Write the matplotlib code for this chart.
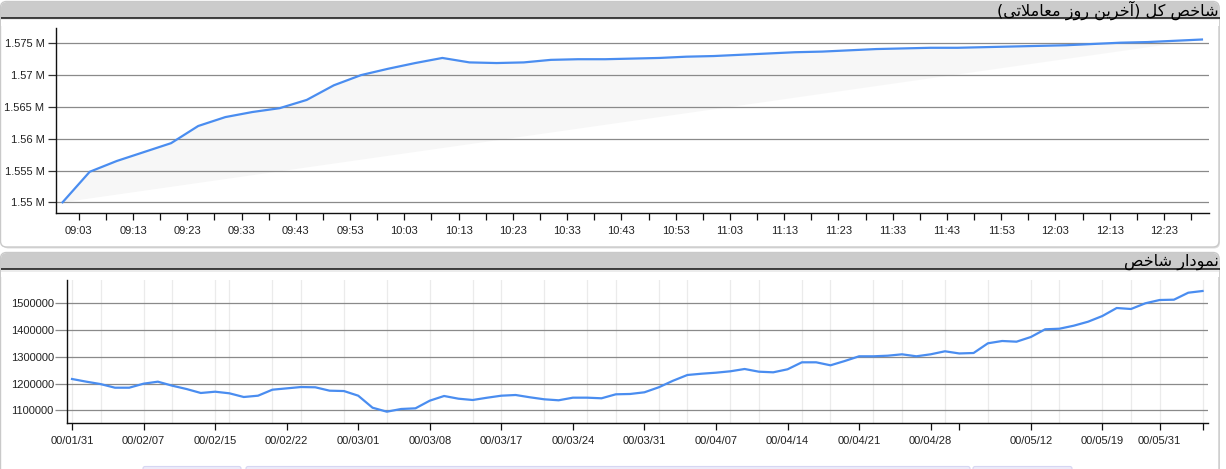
import matplotlib
matplotlib.use('Agg')
import matplotlib.pyplot as plt
from matplotlib.patches import FancyBboxPatch, Rectangle
from matplotlib.ticker import FixedLocator

# ---------------- data ----------------
top_title = "شاخص کل (آخرین روز معاملاتی)"
bottom_title = "نمودار شاخص"

top_times = ["09:00", "09:05", "09:10", "09:15", "09:20", "09:25", "09:30", "09:35",
             "09:40", "09:45", "09:50", "09:55", "10:00", "10:05", "10:10", "10:15",
             "10:20", "10:25", "10:30", "10:35", "10:40", "10:45", "10:50", "10:55",
             "11:00", "11:05", "11:10", "11:15", "11:20", "11:25", "11:30", "11:35",
             "11:40", "11:45", "11:50", "11:55", "12:00", "12:05", "12:10", "12:15",
             "12:20", "12:25", "12:30"]
top_values = [1.5500, 1.5548, 1.5565, 1.5579, 1.5593, 1.5620, 1.5634, 1.5642,
              1.5648, 1.5661, 1.5684, 1.5700, 1.5710, 1.5719, 1.5727, 1.5720,
              1.5719, 1.5720, 1.5724, 1.5725, 1.5725, 1.5726, 1.5727, 1.5729,
              1.5730, 1.5732, 1.5734, 1.5736, 1.5737, 1.5739, 1.5741, 1.5742,
              1.5743, 1.5743, 1.5744, 1.5745, 1.5746, 1.5747, 1.5749, 1.5751,
              1.5752, 1.5754, 1.5756]  # millions
top_ytick_values = [1.55, 1.555, 1.56, 1.565, 1.57, 1.575]
top_ytick_labels = ["1.55 M", "1.555 M", "1.56 M", "1.565 M", "1.57 M", "1.575 M"]
top_xtick_labels = ["09:03", "09:13", "09:23", "09:33", "09:43", "09:53", "10:03",
                    "10:13", "10:23", "10:33", "10:43", "10:53", "11:03", "11:13",
                    "11:23", "11:33", "11:43", "11:53", "12:03", "12:13", "12:23"]
top_minor_labels = ["09:08", "09:18", "09:28", "09:38", "09:48", "09:58", "10:08",
                    "10:18", "10:28", "10:38", "10:48", "10:58", "11:08", "11:18",
                    "11:28", "11:38", "11:48", "11:58", "12:08", "12:18", "12:28"]

bottom_values = [1217000, 1207000, 1198000, 1184500, 1184500, 1199500, 1207000, 1192000,
                 1179600, 1164700, 1169500, 1163500, 1149700, 1154600, 1177000, 1182000,
                 1187000, 1186000, 1173300, 1172000, 1154600, 1109700, 1094800, 1104900,
                 1107400, 1136000, 1153500, 1143400, 1138500, 1147000, 1154600, 1157200,
                 1148600, 1141100, 1137400, 1147200, 1147200, 1144900, 1159800, 1161000,
                 1167300, 1186000, 1210600, 1232000, 1236800, 1240600, 1245800, 1254400,
                 1244300, 1242000, 1253300, 1279400, 1279400, 1268200, 1284300, 1301900,
                 1301900, 1304100, 1309300, 1301900, 1309300, 1320600, 1312500, 1314200,
                 1350500, 1359100, 1356500, 1374000, 1402800, 1405000, 1416300, 1431200,
                 1452500, 1482400, 1478700, 1500000, 1512300, 1513500, 1539600, 1546000]
bottom_ytick_values = [1100000, 1200000, 1300000, 1400000, 1500000]
bottom_ytick_labels = ["1100000", "1200000", "1300000", "1400000", "1500000"]
bottom_tick_idx = [0, 5, 10, 15, 20, 25, 30, 35, 40, 45, 50, 55, 60, 62, 67, 72, 76, 79]
bottom_tick_labels = ["00/01/31", "00/02/07", "00/02/15", "00/02/22", "00/03/01",
                      "00/03/08", "00/03/17", "00/03/24", "00/03/31", "00/04/07",
                      "00/04/14", "00/04/21", "00/04/28", "", "00/05/12", "00/05/19",
                      "00/05/31", ""]
bottom_vgrid_idx = [0, 2, 5, 7, 10, 11, 14, 16, 19, 22, 25, 28, 30, 33, 36, 38, 41, 43,
                    46, 48, 51, 53, 56, 58, 61, 64, 67, 69, 72, 74, 76, 79]

# ---------------- Persian text shaping (presentation forms) ----------------
FORMS = {
    'ا': ('\uFE8D', '\uFE8E', None, None),
    'آ': ('\uFE81', '\uFE82', None, None),
    'ت': ('\uFE95', '\uFE96', '\uFE97', '\uFE98'),
    'خ': ('\uFEA5', '\uFEA6', '\uFEA7', '\uFEA8'),
    'د': ('\uFEA9', '\uFEAA', None, None),
    'ر': ('\uFEAD', '\uFEAE', None, None),
    'ز': ('\uFEAF', '\uFEB0', None, None),
    'ش': ('\uFEB5', '\uFEB6', '\uFEB7', '\uFEB8'),
    'ص': ('\uFEB9', '\uFEBA', '\uFEBB', '\uFEBC'),
    'ع': ('\uFEC9', '\uFECA', '\uFECB', '\uFECC'),
    'ک': ('\uFB8E', '\uFB8F', '\uFB90', '\uFB91'),
    'ل': ('\uFEDD', '\uFEDE', '\uFEDF', '\uFEE0'),
    'م': ('\uFEE1', '\uFEE2', '\uFEE3', '\uFEE4'),
    'ن': ('\uFEE5', '\uFEE6', '\uFEE7', '\uFEE8'),
    'و': ('\uFEED', '\uFEEE', None, None),
    'ی': ('\uFBFC', '\uFBFD', '\uFBFE', '\uFBFF'),
}
LAMALEF = {'ا': ('\uFEFB', '\uFEFC'), 'آ': ('\uFEF5', '\uFEF6')}
MIRROR = {'(': ')', ')': '('}


def shape_rtl(text):
    s = list(text)
    n = len(s)
    out = []
    i = 0
    while i < n:
        c = s[i]
        if c not in FORMS:
            out.append(c)
            i += 1
            continue
        prev = s[i - 1] if i > 0 else None
        prev_joins = prev in FORMS and FORMS[prev][2] is not None
        if c == 'ل' and i + 1 < n and s[i + 1] in LAMALEF:
            iso, fin = LAMALEF[s[i + 1]]
            out.append(fin if prev_joins else iso)
            i += 2
            continue
        nxt = s[i + 1] if i + 1 < n else None
        next_joins = nxt in FORMS
        dual = FORMS[c][2] is not None
        if prev_joins and next_joins and dual:
            out.append(FORMS[c][3])
        elif prev_joins:
            out.append(FORMS[c][1])
        elif next_joins and dual:
            out.append(FORMS[c][2])
        else:
            out.append(FORMS[c][0])
        i += 1
    return ''.join(MIRROR.get(ch, ch) for ch in reversed(out))


# ---------------- figure ----------------
W, H = 1226, 469
fig = plt.figure(figsize=(W / 100, H / 100), dpi=100)
fig.patch.set_facecolor('white')

bg = fig.add_axes([0, 0, 1, 1], zorder=0)
bg.set_xlim(0, W)
bg.set_ylim(H, 0)
bg.axis('off')

HEADER_GRAY = '#cbcbcb'
BORDER = '#c9c9c9'


def panel(top, bottom, header_bottom):
    # shadow
    bg.add_patch(FancyBboxPatch((2.5, top + 1.5), 1217.5, bottom - top,
                                boxstyle="round,pad=0,rounding_size=6",
                                fc='#dedede', ec='none', zorder=0))
    bg.add_patch(FancyBboxPatch((0.5, top), 1218.5, bottom - top,
                                boxstyle="round,pad=0,rounding_size=6",
                                fc='white', ec=BORDER, lw=1.0, zorder=1))
    bg.add_patch(FancyBboxPatch((1.0, top + 0.5), 1217.5, header_bottom - top + 6,
                                boxstyle="round,pad=0,rounding_size=6",
                                fc=HEADER_GRAY, ec='none', zorder=2))
    bg.add_patch(Rectangle((1.0, header_bottom - 1), 1218, 8, fc='white', ec='none', zorder=2.5))
    bg.add_patch(Rectangle((1.0, header_bottom - 1), 1218, 2.2, fc='#ececec', ec='none', zorder=2.6))
    bg.plot([0.5, 1219.5], [header_bottom - 1.2, header_bottom - 1.2], color='#111111', lw=1.1,
            zorder=3, solid_capstyle='butt')


panel(1.5, 247, 19)
panel(252.5, 480, 270.5)

bg.text(1218.5, 10.5, shape_rtl(top_title), ha='right', va='center', fontsize=11.6,
        family=['DejaVu Sans'], color='#000000', zorder=4)
bg.text(1218.5, 262, shape_rtl(bottom_title), ha='right', va='center', fontsize=11.6,
        family=['DejaVu Sans'], color='#000000', zorder=4)

# faint lavender buttons at very bottom
for x0, x1 in [(143, 241), (246, 970), (973, 1072)]:
    bg.add_patch(FancyBboxPatch((x0, 466.5), x1 - x0, 6, boxstyle="round,pad=0,rounding_size=2",
                                fc='#ececfa', ec='#d6d6f2', lw=0.8, zorder=1))

LINE = '#4a8df0'
GRID = '#8a8a8a'
TICKFONT = dict(family=['Liberation Sans', 'DejaVu Sans'], size=8, color='#222222')


def px_axes(l, t, r, b):
    ax = fig.add_axes([l / W, 1 - b / H, (r - l) / W, (b - t) / H], zorder=5)
    ax.patch.set_alpha(0)
    return ax


def to_min(t):
    h, m = t.split(':')
    return (int(h) - 9) * 60 + int(m)


# ---------------- top chart ----------------
ax1 = px_axes(55.5, 28, 1209, 213)
tx = [to_min(t) for t in top_times]
ax1.fill(tx, top_values, color='#f7f7f7', zorder=0.3, lw=0)
ax1.plot(tx, top_values, color=LINE, lw=1.6, zorder=3, solid_joinstyle='round')
ax1.set_xlim(-1.3, 211.3)
ax1.set_ylim(1.54832, 1.57741)
ax1.set_axisbelow(True)
ax1.yaxis.set_major_locator(FixedLocator(top_ytick_values))
ax1.set_yticklabels(top_ytick_labels, fontdict=TICKFONT)
ax1.grid(axis='y', color=GRID, lw=0.9)
ax1.set_xticks([to_min(t) for t in top_xtick_labels])
ax1.set_xticklabels(top_xtick_labels, fontdict=TICKFONT)
ax1.set_xticks([to_min(t) for t in top_minor_labels], minor=True)
ax1.tick_params(axis='x', which='both', direction='out', length=5, width=0.9, color='#111111', pad=4)
ax1.tick_params(axis='y', direction='out', length=5.5, width=0.9, color='#333333', pad=2.5)
for s in ['top', 'right']:
    ax1.spines[s].set_visible(False)
for s in ['left', 'bottom']:
    ax1.spines[s].set_color('#111111')
    ax1.spines[s].set_linewidth(1.0)

# ---------------- bottom chart ----------------
ax2 = px_axes(67, 280, 1208, 423.3)
bx = list(range(len(bottom_values)))
for gx in bottom_vgrid_idx:
    ax2.axvline(gx, color='#ebebeb', lw=0.9, zorder=0.2)
ax2.plot(bx, bottom_values, color=LINE, lw=1.6, zorder=3, solid_joinstyle='round')
ax2.set_xlim(-0.35, 79.38)
ax2.set_ylim(1051400, 1587100)
ax2.set_axisbelow(True)
ax2.yaxis.set_major_locator(FixedLocator(bottom_ytick_values))
ax2.set_yticklabels(bottom_ytick_labels, fontdict=TICKFONT)
ax2.grid(axis='y', color=GRID, lw=0.9)
ax2.set_xticks(bottom_tick_idx)
ax2.set_xticklabels(bottom_tick_labels, fontdict=TICKFONT)
ax2.tick_params(axis='x', direction='out', length=5, width=0.9, color='#111111', pad=4)
ax2.tick_params(axis='y', direction='out', length=8.5, width=0.9, color=GRID, pad=1)
for s in ['top', 'right']:
    ax2.spines[s].set_visible(False)
for s in ['left', 'bottom']:
    ax2.spines[s].set_color('#111111')
    ax2.spines[s].set_linewidth(1.0)

fig.savefig('out.png', dpi=100)
